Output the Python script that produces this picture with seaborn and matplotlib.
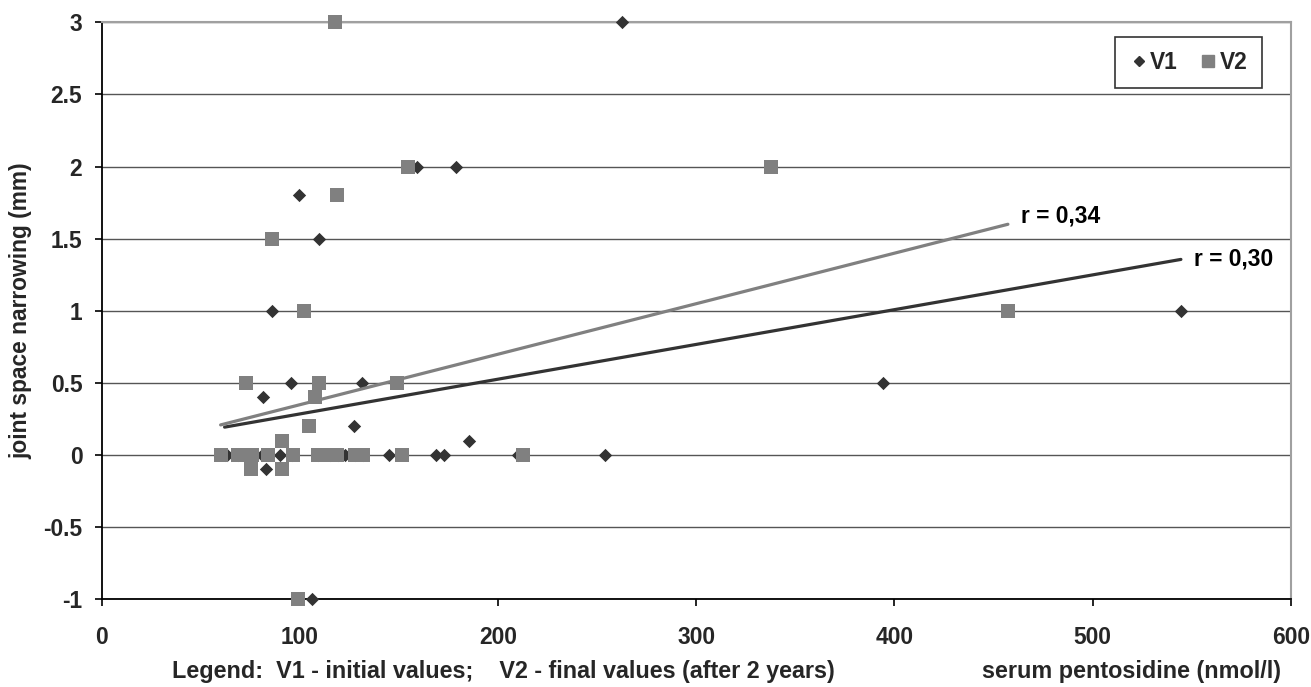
import matplotlib
matplotlib.use("Agg")
import matplotlib.pyplot as plt
from matplotlib.lines import Line2D
import seaborn as sns
import pandas as pd
import numpy as np

# ---- data (some V1 diamonds at 0 sit hidden behind squares) ----
v1_x = [62, 81, 90, 123, 145, 168.5, 172.7, 210, 254,
        63, 69, 75, 84, 96, 109, 115, 119, 128, 132,
        95.4, 131.3, 394.2,
        81.5, 127.3, 185.5, 82.9,
        86.1, 544.6,
        109.8, 99.4, 158.9, 178.6, 262.5, 106]
v1_y = [0, 0, 0, 0, 0, 0, 0, 0, 0,
        0, 0, 0, 0, 0, 0, 0, 0, 0, 0,
        0.5, 0.5, 0.5,
        0.4, 0.2, 0.1, -0.1,
        1, 1,
        1.5, 1.8, 2, 2, 3, -1]

v2_x = [60, 68.6, 72, 75.7, 84, 96.4, 109.3, 112, 114.8, 118.6, 127.8, 131.7, 151.7, 212.7,
        72.8, 109.6, 149.1,
        107.6, 104.4, 91, 75.2, 90.8,
        101.9, 457.3,
        85.9, 118.7, 154.7, 337.7, 117.7, 99.2]
v2_y = [0, 0, 0, 0, 0, 0, 0, 0, 0, 0, 0, 0, 0, 0,
        0.5, 0.5, 0.5,
        0.4, 0.2, 0.1, -0.1, -0.1,
        1, 1,
        1.5, 1.8, 2, 2, 3, -1]

series_names = ["V1", "V2"]
r_labels = ["r = 0,30", "r = 0,34"]
x_ticks = [0, 100, 200, 300, 400, 500, 600]
y_ticks = [-1, -0.5, 0, 0.5, 1, 1.5, 2, 2.5, 3]
y_tick_labels = ["-1", "-0.5", "0", "0.5", "1", "1.5", "2", "2.5", "3"]
x_label = "serum pentosidine (nmol/l)"
y_label = "joint space narrowing (mm)"
note_text = "Legend:  V1 - initial values;    V2 - final values (after 2 years)"

df1 = pd.DataFrame({"x": v1_x, "y": v1_y})
df2 = pd.DataFrame({"x": v2_x, "y": v2_y})

sns.set_theme(style="white")
plt.rcParams["font.family"] = ["Liberation Sans", "DejaVu Sans"]
plt.rcParams["font.weight"] = "bold"

c1 = "#333333"
c2 = "#808080"
fs = 16.4

fig, ax = plt.subplots(figsize=(13.11, 6.87), dpi=100)
fig.subplots_adjust(left=0.0776, right=0.9845, bottom=0.1277, top=0.9675)

sns.scatterplot(data=df1, x="x", y="y", marker="D", s=46, color=c1,
                linewidth=0, ax=ax, zorder=3, clip_on=False)
sns.scatterplot(data=df2, x="x", y="y", marker="s", s=88, color=c2,
                linewidth=0, ax=ax, zorder=4, clip_on=False)
sns.regplot(data=df1, x="x", y="y", scatter=False, ci=None, truncate=True,
            ax=ax, line_kws={"color": c1, "lw": 2.3, "zorder": 5})
sns.regplot(data=df2, x="x", y="y", scatter=False, ci=None, truncate=True,
            ax=ax, line_kws={"color": c2, "lw": 2.3, "zorder": 6})

# r labels at the end of each fitted line
for dfi, lab, dy in zip([df1, df2], r_labels, [0, 6]):
    k, b = np.polyfit(dfi["x"], dfi["y"], 1)
    xe = dfi["x"].max()
    ax.annotate(lab, (xe, k * xe + b), xytext=(9.5, dy), textcoords="offset points",
                ha="left", va="center", fontsize=fs, fontweight="bold", color="black")

ax.set_xlim(0, 600)
ax.set_ylim(-1, 3)
ax.set_xticks(x_ticks)
ax.set_xticklabels([str(t) for t in x_ticks])
ax.set_yticks(y_ticks)
ax.set_yticklabels(y_tick_labels)
ax.tick_params(axis="x", which="major", direction="out", length=5, width=1.2,
               pad=14, labelsize=fs, color="black", bottom=True)
ax.tick_params(axis="y", which="major", direction="out", length=5, width=1.2,
               pad=9, labelsize=fs, color="black", left=True)
for lab in ax.get_xticklabels() + ax.get_yticklabels():
    lab.set_fontweight("bold")

ax.yaxis.grid(True, color="#555555", lw=1.0)
ax.xaxis.grid(False)
ax.set_axisbelow(True)

for side in ["left", "bottom"]:
    ax.spines[side].set_color("black")
    ax.spines[side].set_linewidth(1.3)
for side in ["top", "right"]:
    ax.spines[side].set_color("#a0a0a0")
    ax.spines[side].set_linewidth(1.5)

ax.set_xlabel("")
ax.set_ylabel(y_label, fontsize=fs, fontweight="bold")
ax.yaxis.set_label_coords(-0.058, 0.5)

fig.text(0.1312, 1 - 678 / 687, note_text, ha="left", va="baseline",
         fontsize=16.8, fontweight="bold")
fig.text(1281 / 1311, 1 - 678 / 687, x_label, ha="right", va="baseline",
         fontsize=16.8, fontweight="bold")

handles = [Line2D([], [], marker="D", color=c1, lw=0, markersize=5.2),
           Line2D([], [], marker="s", color=c2, lw=0, markersize=8.5)]
leg = ax.legend(handles, series_names, ncol=2, loc="upper right",
                bbox_to_anchor=(1261.7 / 1311, 1 - 36.7 / 687),
                bbox_transform=fig.transFigure, borderaxespad=0,
                frameon=True, fancybox=False, edgecolor="black",
                prop={"size": fs, "weight": "bold"},
                handlelength=0.8, handletextpad=0.1, columnspacing=0.95,
                borderpad=0.62)
leg.get_frame().set_linewidth(1.2)

fig.savefig("out.png", dpi=100)
